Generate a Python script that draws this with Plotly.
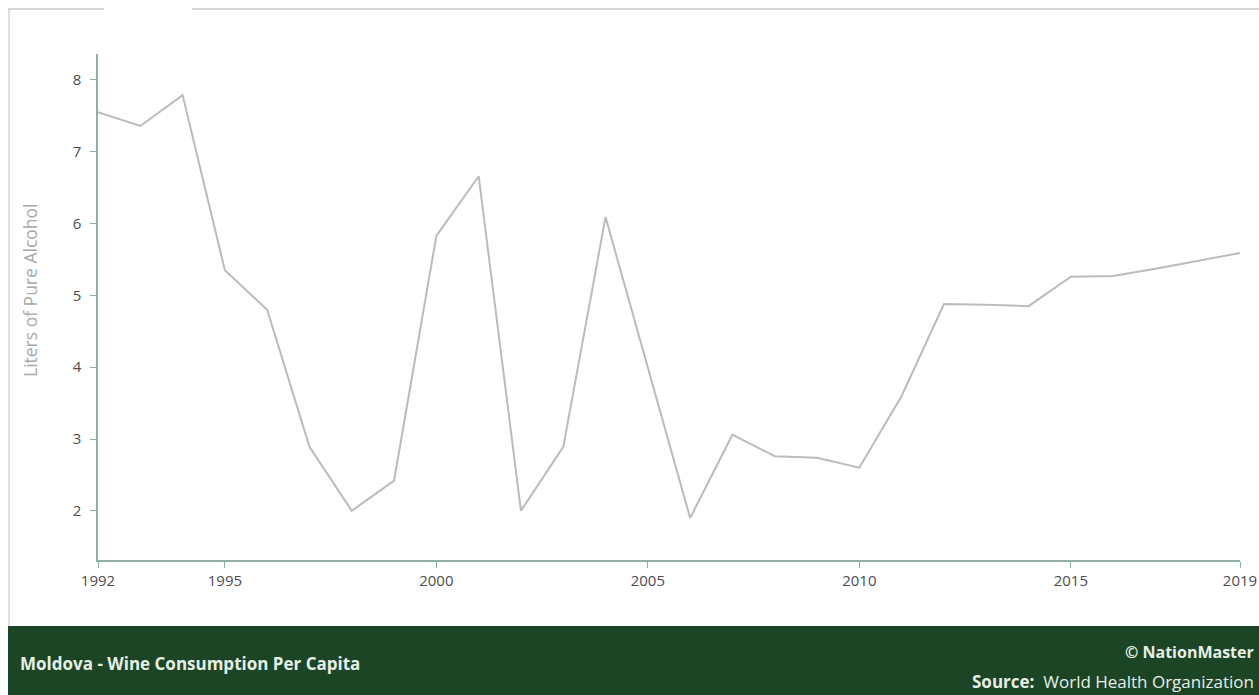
import plotly.graph_objects as go

years = list(range(1992, 2020))
liters = [7.55, 7.36, 7.79, 5.35, 4.80, 2.89, 2.00, 2.42, 5.83, 6.66,
          2.00, 2.89, 6.09, 4.00, 1.90, 3.06, 2.76, 2.74, 2.60, 3.60,
          4.88, 4.87, 4.85, 5.26, 5.27, 5.37, 5.48, 5.59]
x_ticks = [1992, 1995, 2000, 2005, 2010, 2015, 2019]
y_ticks = [2, 3, 4, 5, 6, 7, 8]

W, H = 1259, 695
L, R, T, B = 98, 1240, 54, 560

def px(x):
    return (x - L) / (R - L)

def py(y):
    return (B - y) / (B - T)

fig = go.Figure()
fig.add_trace(go.Scatter(x=years, y=liters, mode="lines",
                         line=dict(color="#bbbbbb", width=2),
                         hoverinfo="x+y", showlegend=False))

axis_col = "#8fb0a4"
tick_font = dict(family="Open Sans", size=15, color="#4d4d4d")
fig.update_layout(
    width=W, height=H, autosize=False,
    margin=dict(l=L, r=W - R, t=T, b=H - B, autoexpand=False),
    paper_bgcolor="white", plot_bgcolor="white",
    font=dict(family="Open Sans", size=12, color="#444"),
    xaxis=dict(range=[1992, 2019], tickvals=x_ticks, ticks="outside", ticklen=6,
               tickcolor=axis_col, showline=True, linecolor=axis_col, linewidth=1.5,
               showgrid=False, zeroline=False, tickfont=tick_font, automargin=False),
    yaxis=dict(range=[1.315, 8.362], tickvals=y_ticks, ticks="outside", ticklen=6,
               tickcolor=axis_col, showline=True, linecolor=axis_col, linewidth=1.5,
               showgrid=False, zeroline=False, tickfont=tick_font, automargin=False,
               ticklabelstandoff=6),
)

shapes = [
    dict(type="line", xref="paper", yref="paper", x0=px(8), x1=px(1259), y0=py(9), y1=py(9),
         line=dict(color="#c8c8c8", width=1.5)),
    dict(type="line", xref="paper", yref="paper", x0=px(9), x1=px(9), y0=py(9), y1=py(626),
         line=dict(color="#d5d5d5", width=1.5)),
    dict(type="rect", xref="paper", yref="paper", x0=px(104), x1=px(192), y0=py(8), y1=py(14),
         fillcolor="white", line=dict(width=0)),
    dict(type="rect", xref="paper", yref="paper", x0=px(8), x1=px(1259), y0=py(626), y1=py(695),
         fillcolor="#1c4526", line=dict(width=0), layer="above"),
]
fig.update_layout(shapes=shapes)

foot_col = "#e6efe6"
annotations = [
    dict(text="Liters of Pure Alcohol", xref="paper", yref="paper", x=px(30), y=py(291),
         textangle=-90, showarrow=False, font=dict(family="Open Sans", size=17.5, color="#a8a8a8"),
         xanchor="center", yanchor="middle"),
    dict(text="<b>Moldova - Wine Consumption Per Capita</b>", xref="paper", yref="paper",
         x=px(18), y=py(663), showarrow=False, xanchor="left", yanchor="middle",
         font=dict(family="Open Sans", size=17, color=foot_col)),
    dict(text="<b>© NationMaster</b>", xref="paper", yref="paper",
         x=px(1256), y=py(652), showarrow=False, xanchor="right", yanchor="middle",
         font=dict(family="Open Sans", size=16, color=foot_col)),
    dict(text="<b>Source:</b>  World Health Organization", xref="paper", yref="paper",
         x=px(1256), y=py(681), showarrow=False, xanchor="right", yanchor="middle",
         font=dict(family="Open Sans", size=17, color=foot_col)),
]
fig.update_layout(annotations=annotations)

fig.write_html(
    "out.html",
    config={"responsive": False, "displayModeBar": False},
    post_script="document.body.style.margin='0';document.body.style.overflow='hidden';",
)
